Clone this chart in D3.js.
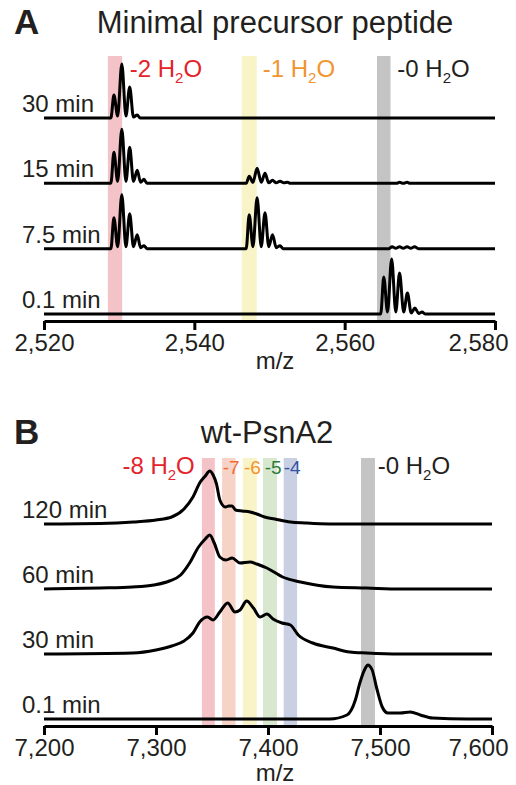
<!DOCTYPE html>
<html>
<head>
<meta charset="utf-8">
<script src="https://cdn.jsdelivr.net/npm/d3@7"></script>
<style>
  body { margin: 0; background: #fff; }
  svg { font-family: 'Liberation Sans', Arial, sans-serif; }
</style>
</head>
<body>
<svg id="chart" width="516" height="785"></svg>
<script>
// ---- panel A : minimal precursor peptide ----
const ticksA = [2520, 2540, 2560, 2580]
const rowsA = ['30 min', '15 min', '7.5 min', '0.1 min']
// bands: [lo, hi, fill]
const bandsA = [[2528.5, 2530.4, '#f3c3c7'], [2546.3, 2548.3, '#f8f4c8'], [2564.3, 2566.1, '#c4c4c4']]
// labels: [m/z, text, with H2O?, colour]
const labelsA = [[2531.4, '-2 H', true, '#e3232a'], [2549.1, '-1 H', true, '#f0952f'], [2567.0, '-0 H', true, '#231f20']]

// spectra: [m/z, relative intensity]
const spec30A = [[2520, 0], [2528.9, 0], [2529.3, 23], [2529.8, 2], [2530.35, 54], [2530.9, 2], [2531.4, 31],
  [2531.9, 1], [2532.4, 3], [2532.8, 0], [2580, 0]]
const spec15A = [[2520, 0], [2528.9, 0], [2529.3, 31], [2529.8, 2], [2530.35, 54], [2530.9, 2], [2531.4, 36],
  [2531.9, 2], [2532.4, 13], [2532.85, 1], [2533.3, 4], [2533.7, 0],
  [2546.9, 0], [2547.3, 7], [2547.8, 1], [2548.35, 15], [2548.9, 1], [2549.4, 10], [2549.9, 0.5],
  [2550.4, 3], [2550.9, 0.5], [2551.4, 2], [2551.9, 0.5], [2552.4, 1], [2552.8, 0],
  [2566.9, 0], [2567.3, 1], [2567.8, 0], [2568.3, 1], [2568.7, 0], [2580, 0]]
const spec7A = [[2520, 0], [2528.9, 0], [2529.3, 31], [2529.8, 2], [2530.35, 54], [2530.9, 2], [2531.4, 35],
  [2531.9, 2], [2532.4, 14], [2532.85, 1], [2533.3, 3], [2533.7, 0],
  [2546.9, 0], [2547.3, 34], [2547.8, 2], [2548.35, 51], [2548.9, 2], [2549.4, 36], [2549.9, 2],
  [2550.4, 14], [2550.9, 1], [2551.4, 3], [2551.8, 0],
  [2565.9, 0], [2566.3, 2], [2566.8, 0.5], [2567.3, 2], [2567.8, 0.5], [2568.3, 2], [2568.8, 0.5],
  [2569.3, 2], [2569.8, 0], [2580, 0]]
const spec01A = [[2520, 0], [2564.8, 0], [2565.2, 37], [2565.7, 2], [2566.25, 55], [2566.8, 2], [2567.3, 41],
  [2567.85, 2], [2568.35, 21], [2568.85, 1], [2569.35, 6], [2569.85, 0.5], [2570.3, 2], [2570.7, 0], [2580, 0]]
const spectraA = [spec30A, spec15A, spec7A, spec01A]

// ---- panel B : wt-PsnA2 ----
const ticksB = [7200, 7300, 7400, 7500, 7600]
const rowsB = ['120 min', '60 min', '30 min', '0.1 min']
const bandsB = [[7341, 7352.5, '#f3c3c7'], [7359, 7371, '#f6d2c7'], [7377.5, 7390, '#f8f4c8'],
  [7395.5, 7408, '#d7e8cf'], [7414, 7426, '#c9d0e4'], [7483, 7495.5, '#c4c4c4']]
const labelsB = [[7270, '-8 H', true, '#e3232a'], [7359.5, '-7', false, '#f26a36'], [7378.5, '-6', false, '#f3922c'],
  [7397, '-5', false, '#2a7b3c'], [7414, '-4', false, '#3553a3'], [7498, '-0 H', true, '#231f20']]

const spec120B = [[7200, 0], [7250, 0.5], [7280, 2], [7300, 4], [7314, 7], [7325, 15], [7333, 27], [7339, 41],
  [7344, 48], [7348, 53], [7351, 49], [7354, 40], [7357, 24], [7362, 17], [7365, 18], [7368, 18], [7371, 14],
  [7377, 13], [7384, 12], [7390, 10], [7397, 7], [7406, 5], [7420, 2], [7433, 1], [7455, 0], [7600, 0]]
const spec60B = [[7200, 0], [7250, 1], [7279, 2], [7298, 4], [7312, 8], [7322, 14], [7330, 26], [7338, 42],
  [7344, 50], [7348, 54], [7352, 46], [7357, 32], [7362.5, 29], [7368, 31], [7375, 26], [7384, 27], [7390, 25],
  [7399, 21], [7413, 12], [7429, 7], [7458, 2], [7488, 1], [7518, 0], [7600, 0]]
const spec30B = [[7200, 0], [7279, 1], [7300, 4], [7314, 8], [7325, 13], [7333, 21], [7339, 32], [7346, 37],
  [7351, 34], [7357, 42], [7364, 51], [7370.5, 42], [7375, 44], [7381, 53], [7387, 46], [7393, 37], [7399, 40],
  [7404.5, 35], [7412.5, 31], [7420, 29], [7427, 19], [7440, 11], [7458, 6], [7473, 2], [7488, 1], [7518, 0],
  [7600, 0]]
const spec01B = [[7200, 0], [7455, 0], [7470.5, 4], [7478, 19], [7482, 36], [7487, 51], [7489, 54], [7493, 49],
  [7497, 31], [7502, 12], [7507, 6], [7518, 6], [7527, 7], [7536, 4], [7547, 1], [7578, 0], [7600, 0]]
const spectraB = [spec120B, spec60B, spec30B, spec01B]

const svg = d3.select('#chart')
const ink = '#231f20'

const drawPanel = (p) => {
    const g = svg.append('g')
    const x = d3.scaleLinear().domain(p.domain).range([44, p.right])
    const rowY = d3.scaleLinear().domain([0, 3]).range(p.rows)
    const yI = d3.scaleLinear().domain([0, 60]).range([0, 60])

    // coloured bands
    g.selectAll('rect.band')
        .data(p.bands)
        .enter()
        .append('rect')
        .attr('x', d => x(d[0]))
        .attr('width', d => x(d[1]) - x(d[0]))
        .attr('y', p.bandTop)
        .attr('height', p.axisY - p.bandTop)
        .attr('fill', d => d[2])

    // panel letter + title
    g.append('text').attr('x', 14).attr('y', p.titleY + 1).text(p.letter)
        .attr('font-size', 35).attr('font-weight', 'bold').attr('fill', ink)
    g.append('text').attr('x', p.titleX).attr('y', p.titleY).text(p.title)
        .attr('text-anchor', 'middle').attr('font-size', 31).attr('fill', ink)

    // band labels
    p.labels.forEach(l => {
        const t = g.append('text').attr('x', x(l[0])).attr('y', p.labelY).attr('fill', l[3])
            .attr('font-size', l[2] ? 24 : 19).text(l[1])
        if (l[2]) {
            t.append('tspan').attr('font-size', 15).attr('dy', 6).text('2')
            t.append('tspan').attr('dy', -6).text('O')
        }
    })

    // traces
    p.spectra.forEach((s, i) => {
        const base = rowY(i)
        const line = d3.line()
            .x(d => x(d[0]))
            .y(d => base - yI(d[1]))
            .curve(d3.curveMonotoneX)
        g.append('path')
            .attr('d', line(s))
            .attr('fill', 'none')
            .attr('stroke', '#000')
            .attr('stroke-width', 3)
            .attr('stroke-linejoin', 'round')
        g.append('text').attr('x', 22).attr('y', base - 6).text(p.rowNames[i])
            .attr('font-size', 24).attr('fill', ink)
    })

    // axis
    const axis = d3.axisBottom(x).tickValues(p.ticks).tickSizeInner(9).tickSizeOuter(0)
        .tickPadding(4).tickFormat(d3.format(','))
    const ax = g.append('g').attr('transform', `translate(0, ${p.axisY})`).call(axis)
    ax.select('.domain').attr('stroke', '#000').attr('stroke-width', 3)
    ax.selectAll('.tick line').attr('stroke', '#000').attr('stroke-width', 3)
    ax.selectAll('.tick text').attr('font-size', 24).attr('fill', ink)
        .attr('font-family', "'Liberation Sans', Arial, sans-serif")
    // last label is pulled back inside the page
    ax.selectAll('.tick text').filter((d, i, n) => i === n.length - 1)
        .attr('text-anchor', 'end').attr('dx', 508 - p.right)

    g.append('text').attr('x', p.mzX).attr('y', p.mzY).text('m/z')
        .attr('text-anchor', 'middle').attr('font-size', 24).attr('fill', ink)
}

drawPanel({
    letter: 'A', title: 'Minimal precursor peptide', titleX: 275, titleY: 33,
    domain: [2520, 2580], right: 495, ticks: ticksA,
    rows: [118, 314], rowNames: rowsA, spectra: spectraA,
    bands: bandsA, bandTop: 56, labels: labelsA, labelY: 77,
    axisY: 321, mzX: 275, mzY: 369
})

drawPanel({
    letter: 'B', title: 'wt-PsnA2', titleX: 267, titleY: 443,
    domain: [7200, 7600], right: 492, ticks: ticksB,
    rows: [524, 719], rowNames: rowsB, spectra: spectraB,
    bands: bandsB, bandTop: 458, labels: labelsB, labelY: 474,
    axisY: 726, mzX: 275, mzY: 781
})
</script>
</body>
</html>
